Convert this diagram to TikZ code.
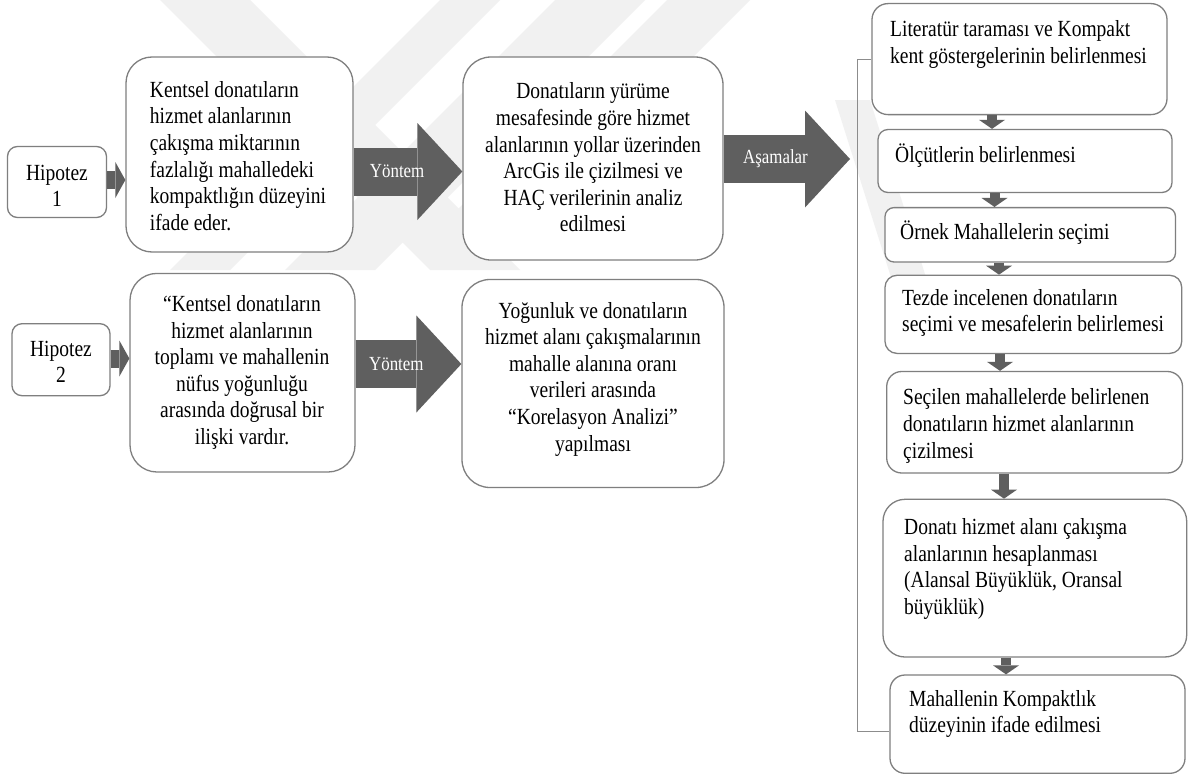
\documentclass[tikz,border=0pt]{standalone}
\usepackage{fontspec}
\setmainfont{Liberation Serif}[FakeStretch=0.845]
\usetikzlibrary{arrows.meta}
\definecolor{framegray}{HTML}{7F7F7F}
\definecolor{arrowgray}{HTML}{5F5F5F}
\definecolor{linegray}{HTML}{8C8C8C}
\definecolor{markgray}{HTML}{F1F1F1}
\newcommand\bodysize{\fontsize{23.1}{26.6}\selectfont}
\newcommand\tagsize{\fontsize{20}{24}\selectfont}

\begin{document}
\begin{tikzpicture}[x=1pt,y=-1pt,
  pane/.style={draw=framegray, line width=1.3pt, fill=white, rounded corners=#1pt, inner sep=0pt},
  txt/.style={font=\bodysize, inner sep=0pt, text=black},
  blockarrow/.style={arrowgray, line width=48pt, -{Triangle[length=45pt,width=97pt,line width=0pt]}},
  stubarrow/.style={arrowgray, line width=18pt, -{Triangle[length=10pt,width=36pt,line width=0pt]}},
  dropdown/.style={arrowgray, line width=10pt, -{Triangle[length=9pt,width=26pt,line width=0pt]}},
  tag/.style={font=\tagsize, text=white, inner sep=0pt},
  bracket/.style={draw=linegray, line width=0.9pt},
  band/.style={fill=markgray, draw=none},
]
\useasboundingbox (0,0) rectangle (1194,776);
\fill[white] (0,0) rectangle (1194,776);

% faint background emblem: diagonal bands
\fill[band] (160,0) -- (250,0) -- (520,270) -- (430,270) -- cycle;
\fill[band] (555,0) -- (645,0) -- (375,270) -- (285,270) -- cycle;
\fill[band] (440,0) -- (500,0) -- (230,270) -- (170,270) -- cycle;
\fill[band] (667,0) -- (750,0) -- (520,230) -- (437,230) -- cycle;
\fill[band] (835,100) -- (870,100) -- (930,290) -- (895,290) -- cycle;

% hypothesis boxes
\node[pane=10, minimum width=99pt, minimum height=71pt] (h1) at (57,182) {};
\node[pane=10, minimum width=98pt, minimum height=72pt] (h2) at (61,359.7) {};

% hypothesis statements
\node[pane=26, minimum width=227pt, minimum height=195pt] (k1) at (239.5,154.5) {};
\node[pane=27, minimum width=225pt, minimum height=198.6pt] (k2) at (242.5,372.7) {};

% method boxes
\node[pane=28, minimum width=260pt, minimum height=203pt] (d1) at (593,158.5) {};
\node[pane=28, minimum width=262pt, minimum height=208pt] (d2) at (593,383.5) {};

% stage boxes
\node[pane=16, minimum width=295pt, minimum height=111pt] (r1) at (1019.5,59.1) {};
\node[pane=10, minimum width=294pt, minimum height=63pt] (r2) at (1025,161) {};
\node[pane=9, minimum width=290.5pt, minimum height=54.4pt] (r3) at (1030.25,234.8) {};
\node[pane=12, minimum width=296.7pt, minimum height=78.1pt] (r4) at (1033.35,314.35) {};
\node[pane=15, minimum width=295.8pt, minimum height=101.5pt] (r5) at (1034.6,422.25) {};
\node[pane=22, minimum width=303.7pt, minimum height=157.7pt] (r6) at (1034.85,578.15) {};
\node[pane=15, minimum width=295pt, minimum height=98.3pt] (r7) at (1037.5,724.15) {};

% texts
\node[txt, align=center] (h1t) at (57,186) {Hipotez\\1};
\node[txt, align=center] (h2t) at (61,362) {Hipotez\\2};
\node[txt, align=left] (k1t) at (238,156) {Kentsel donatıların\\hizmet alanlarının\\çakışma miktarının\\fazlalığı mahalledeki\\kompaktlığın düzeyini\\ifade eder.};
\node[txt, align=center] (k2t) at (242,372.5) {“Kentsel donatıların\\hizmet alanlarının\\toplamı ve mahallenin\\nüfus yoğunluğu\\arasında doğrusal bir\\ilişki vardır.};
\node[txt, align=center] (d1t) at (593,157.5) {Donatıların yürüme\\mesafesinde göre hizmet\\alanlarının yollar üzerinden\\ArcGis ile çizilmesi ve\\HAÇ verilerinin analiz\\edilmesi};
\node[txt, align=center] (d2t) at (593,379) {Yoğunluk ve donatıların\\hizmet alanı çakışmalarının\\mahalle alanına oranı\\verileri arasında\\“Korelasyon Analizi”\\yapılması};
\node[txt, align=left, anchor=west] (r1t) at (890,44.5) {Literatür taraması ve Kompakt\\kent göstergelerinin belirlenmesi};
\node[txt, align=left, anchor=west] (r2t) at (895,156) {Ölçütlerin belirlenmesi};
\node[txt, align=left, anchor=west] (r3t) at (900,232.5) {Örnek Mahallelerin seçimi};
\node[txt, align=left, anchor=west] (r4t) at (902,313) {Tezde incelenen donatıların\\seçimi ve mesafelerin belirlemesi};
\node[txt, align=left, anchor=west] (r5t) at (903,426) {Seçilen mahallelerde belirlenen\\donatıların hizmet alanlarının\\çizilmesi};
\node[txt, align=left, anchor=west] (r6t) at (904,569) {Donatı hizmet alanı çakışma\\alanlarının hesaplanması\\(Alansal Büyüklük, Oransal\\büyüklük)};
\node[txt, align=left, anchor=west] (r7t) at (909,714) {Mahallenin Kompaktlık\\düzeyinin ifade edilmesi};

% small arrows from the hypotheses
\draw[stubarrow] (h1.east |- 0,180) -- (k1.west |- 0,180);
\draw[stubarrow] (h2.east |- 0,358.5) -- (k2.west |- 0,358.5);

% block arrows
\draw[blockarrow] (k1.east |- 0,171.5) -- (d1.west |- 0,171.5)
  node[tag, pos=0.4] (y1) {Yöntem};
\draw[blockarrow] (k2.east |- 0,364) -- (d2.west |- 0,364)
  node[tag, pos=0.385] (y2) {Yöntem};
\coordinate (stagetip) at (850,159);
\draw[blockarrow] (d1.east |- stagetip) -- (stagetip)
  node[tag, pos=0.41] (as) {Aşamalar};

% bracket along the stage column
\coordinate (brk) at (857,731);
\draw[bracket] (r1.west) -| (brk) -- (r7.west |- brk);

% arrows between stages
\draw[dropdown] (r1.south -| 992,0) -- (r2.north -| 992,0);
\draw[dropdown] (r2.south -| 994.5,0) -- (r3.north -| 994.5,0);
\draw[dropdown] (r3.south -| 999,0) -- (r4.north -| 999,0);
\draw[dropdown] (r4.south -| 1000,0) -- (r5.north -| 1000,0);
\draw[dropdown] (r5.south -| 1004,0) -- (r6.north -| 1004,0);
\draw[dropdown] (r6.south -| 1006,0) -- (r7.north -| 1006,0);
\end{tikzpicture}
\end{document}
